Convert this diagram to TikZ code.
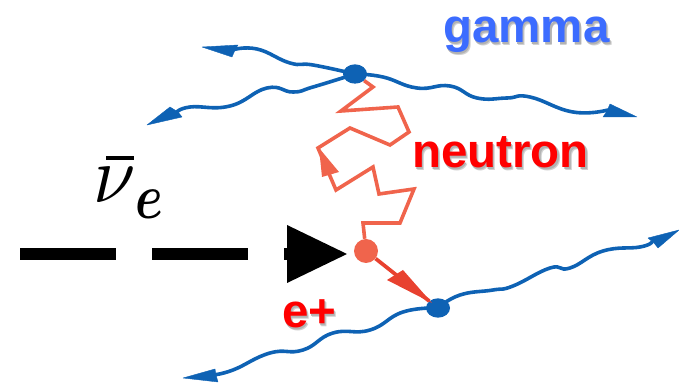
\documentclass[tikz,border=0pt]{standalone}
\usepackage{fontspec}
\setmainfont{Liberation Sans}
\usepackage{graphicx}
\usetikzlibrary{shapes.geometric}
\definecolor{wave}{HTML}{0E62B4}
\definecolor{zig}{HTML}{F0644C}
\definecolor{posi}{HTML}{E8412F}
\definecolor{gam}{HTML}{3C6CFF}
\definecolor{lab}{HTML}{FF0000}
% bold label with a soft grey drop shadow behind it
\newcommand{\shadowed}[2]{%
  \rlap{\hspace{1.6pt}\raisebox{-1.6pt}{\color{black!18}#2}}%
  \rlap{\hspace{0.9pt}\raisebox{-0.9pt}{\color{black!30}#2}}%
  \textcolor{#1}{#2}}
\newcommand{\nusym}{\scalebox{5.7}[6.1]{$\nu$}}
\newcommand{\esym}{\scalebox{3.75}[4.8]{\mathversion{bold}$e$}}
\tikzset{
  wavy/.style={draw=wave,line width=2.7pt,line cap=round,line join=round},
  wavehead/.style={fill=wave,draw=wave,line width=.3pt,line join=round},
  vertex/.style={draw=none,fill=wave,ellipse,minimum width=18pt,minimum height=14.5pt,inner sep=0pt},
  zigline/.style={draw=zig,line width=2.7pt,line join=miter},
  bigtext/.style={font=\fontsize{35.6}{36}\selectfont\bfseries,inner sep=0pt,anchor=base west},
  dashbar/.style={fill=black,draw=none}
}
\begin{document}
\begin{tikzpicture}[x=0.75pt,y=-0.75pt]
\useasboundingbox (0,0) rectangle (679,384);

% vertices
\node[vertex] (top) at (355,74) {};
\node[vertex] (bot) at (438,308) {};
\node[circle,fill=zig,minimum size=18pt,inner sep=0pt] (cap) at (366,251) {};

% free ends of the outgoing lines
\coordinate (a) at (232,50);
\coordinate (b) at (176,113);
\coordinate (c) at (608,110);
\coordinate (d) at (212,375);
\coordinate (f) at (652,242);

% gamma lines
\draw[wavy] plot[smooth,tension=.8] coordinates {(top) (313,65) (290,63) (257,49) (a)};
\draw[wavy] plot[smooth,tension=.8] coordinates {(top) (313,87) (293,92) (267,88) (230,106) (190,107) (b)};
\draw[wavy] plot[smooth,tension=.8] coordinates {(top) (383,77) (417,88) (450,86) (477,98) (507,98) (530,97) (573,112) (c)};
\draw[wavy] plot[smooth,tension=.8] coordinates {(bot) (403,312) (370,330) (333,333) (303,350) (270,353) (233,370) (d)};
\draw[wavy] plot[smooth,tension=.8] coordinates {(bot) (460,295) (493,290) (513,286) (550,268) (570,268) (603,251) (640,247) (f)};

% gamma arrowheads
\fill[wavehead] (202,47) -- (238,45) -- (235,50) -- (232,57) -- cycle;
\fill[wavehead] (147,125) -- (170,107) -- (178,112) -- (182,117) -- cycle;
\fill[wavehead] (637,117) -- (610,104) -- (607,111) -- (603,117) -- cycle;
\fill[wavehead] (183,378) -- (215,369) -- (216,375) -- (218,382) -- cycle;
\fill[wavehead] (679,230) -- (648,238) -- (654,243) -- (658,248) -- cycle;

% neutron path
\draw[zigline] (cap) -- (363,223) -- (400,223) -- (414,189) -- (379,194) -- (373,167)
  -- (336,190) -- (318,148) -- (350,128) -- (390,145) -- (409,132) -- (398,107)
  -- (341,111) -- (373,87) -- (top);
\fill[zig] (319,148) -- (339,172) -- (322,177) -- cycle;

% positron track
\draw[draw=posi,line width=2.8pt] (cap) -- (bot);
\fill[posi] (432,303) -- (403,270) -- (387,280) -- cycle;

% incoming antineutrino
\fill[dashbar] (20,248) rectangle (116,260);
\fill[dashbar] (152,248) rectangle (248,260);
\fill[dashbar] (284,248) rectangle (290,260);
\fill[black] (287,225) -- (347,254) -- (287,283) -- cycle;

% labels
\node[bigtext] (gammalabel) at (443,43) {\shadowed{gam}{gamma}};
\node[bigtext] (neutronlabel) at (412,168) {\shadowed{lab}{neutron}};
\node[bigtext] (poslabel) at (282,328) {\shadowed{lab}{e+}};
\node[inner sep=0pt,anchor=base west] (nulabel) at (93,203) {\nusym\raisebox{-12pt}{\esym}};
\fill[black] (106,156) rectangle (134,160);
\end{tikzpicture}
\end{document}
